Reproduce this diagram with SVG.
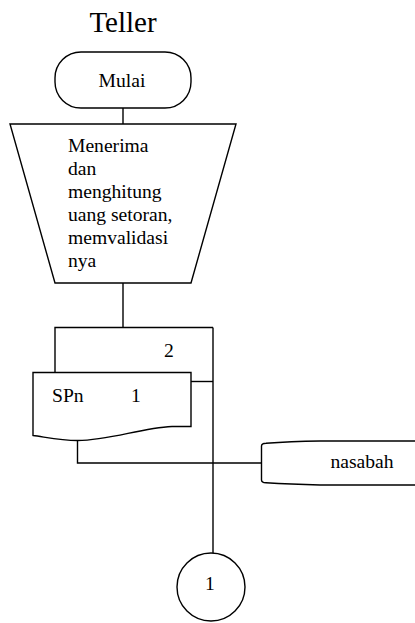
<svg xmlns="http://www.w3.org/2000/svg" width="415" height="623" viewBox="0 0 415 623">
  <style>
    .shape { fill: #ffffff; stroke: #000000; stroke-width: 1.4; }
    .line { fill: none; stroke: #000000; stroke-width: 1.4; }
    text { font-family: "Liberation Serif", "Times New Roman", serif; fill: #000000; }
    .lbl { font-size: 19.6px; }
  </style>
  <rect width="415" height="623" fill="#ffffff"/>

  <text x="123" y="31.5" font-size="29" text-anchor="middle">Teller</text>

  <g id="connectors">
    <line class="line" x1="123" y1="108" x2="123" y2="124"/>
    <line class="line" x1="123" y1="283" x2="123" y2="327.5"/>
    <line class="line" x1="191" y1="381.5" x2="213" y2="381.5"/>
    <line class="line" x1="213" y1="327.5" x2="213" y2="553"/>
    <polyline class="line" points="77.5,440.5 77.5,463 261,463"/>
  </g>

  <g id="mulai">
    <rect class="shape" x="55" y="52" width="136" height="56" rx="26" ry="26"/>
    <text class="lbl" x="122" y="86.5" text-anchor="middle">Mulai</text>
  </g>

  <g id="menerima">
    <polygon class="shape" points="10,124 236,124 191,283 55,283"/>
    <text class="lbl" x="68">
      <tspan x="68" y="152">Menerima</tspan>
      <tspan x="68" y="175">dan</tspan>
      <tspan x="68" y="198">menghitung</tspan>
      <tspan x="68" y="221">uang setoran,</tspan>
      <tspan x="68" y="244">memvalidasi</tspan>
      <tspan x="68" y="267">nya</tspan>
    </text>
  </g>

  <g id="spn-2">
    <polyline class="line" points="55,372.5 55,327.5 213,327.5"/>
    <text class="lbl" x="169" y="357" text-anchor="middle">2</text>
  </g>

  <g id="spn-1">
    <path class="shape" d="M33,372.5 H191 V426.5 H172 C140,428 110,440.5 77.5,440.5 C60,440.5 45,437 33,435.5 Z"/>
    <text class="lbl" x="52" y="402">SPn</text>
    <text class="lbl" x="136" y="402" text-anchor="middle">1</text>
  </g>

  <g id="nasabah">
    <path class="shape" d="M261.5,446 Q261.5,443.3 266,443.2 Q290,441.6 320,441 H430 V485 H320 Q290,484.4 266,482.8 Q261.5,482.6 261.5,480 Z"/>
    <text class="lbl" x="362" y="468" text-anchor="middle">nasabah</text>
  </g>

  <g id="connector-1">
    <circle class="shape" cx="211" cy="587" r="34"/>
    <text class="lbl" x="210" y="589.5" text-anchor="middle">1</text>
  </g>
</svg>
